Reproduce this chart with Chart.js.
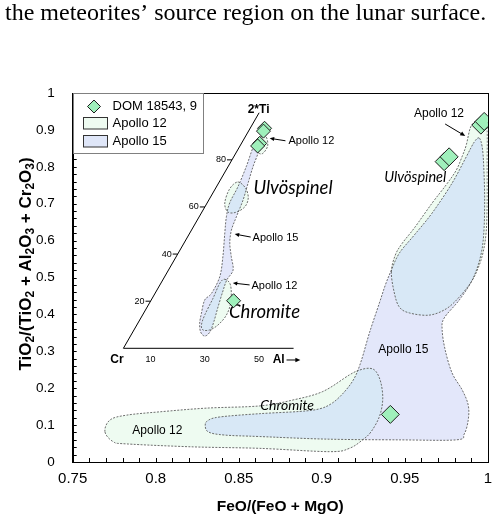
<!DOCTYPE html>
<html>
<head>
<meta charset="utf-8">
<script src="https://cdn.jsdelivr.net/npm/chart.js@4.4.1/dist/chart.umd.min.js"></script>
<style>
  html, body { margin: 0; padding: 0; background: #fff; }
  #wrap { position: relative; width: 492px; height: 518px; }
</style>
</head>
<body>
<div id="wrap"><canvas id="c"></canvas></div>
<script>
// ---- Spinel data: FeO/(FeO+MgO) vs TiO2/(TiO2+Al2O3+Cr2O3) ----
const domSpinel = [
  [0.9413, 0.129], [0.9737, 0.814], [0.9767, 0.827], [0.9958, 0.913], [0.9978, 0.923]
];

// Apollo 15 spinel field (chromite to ulvöspinel)
const apollo15Field = [
  [0.9948, 0.878], [0.9918, 0.867], [0.9870, 0.827], [0.9785, 0.756], [0.9665, 0.675],
  [0.9557, 0.615], [0.9467, 0.566], [0.9419, 0.520], [0.9383, 0.480], [0.9347, 0.431],
  [0.9287, 0.350], [0.9239, 0.276], [0.9197, 0.228], [0.9136, 0.190], [0.9064, 0.160],
  [0.8986, 0.144], [0.8866, 0.137], [0.8626, 0.131], [0.8385, 0.122], [0.8313, 0.112],
  [0.8298, 0.098], [0.8319, 0.081], [0.8415, 0.073], [0.8626, 0.069], [0.9028, 0.062],
  [0.9467, 0.060], [0.9810, 0.060], [0.9858, 0.076], [0.9882, 0.114], [0.9882, 0.154],
  [0.9846, 0.195], [0.9785, 0.241], [0.9743, 0.304], [0.9725, 0.358], [0.9737, 0.390],
  [0.9828, 0.439], [0.9906, 0.493], [0.9954, 0.553], [0.9975, 0.615], [0.9981, 0.710],
  [0.9975, 0.805], [0.9966, 0.854]
];

// Apollo 12 chromite field
const apollo12Chromite = [
  [0.7694, 0.082], [0.7725, 0.114], [0.7825, 0.127], [0.8025, 0.136], [0.8305, 0.146],
  [0.8626, 0.152], [0.8826, 0.168], [0.9006, 0.191], [0.9166, 0.236], [0.9227, 0.249],
  [0.9287, 0.254], [0.9327, 0.245], [0.9357, 0.213], [0.9367, 0.168], [0.9347, 0.123],
  [0.9297, 0.082], [0.9246, 0.060], [0.9166, 0.037], [0.9046, 0.028], [0.8626, 0.037],
  [0.8225, 0.041], [0.7825, 0.049], [0.7744, 0.055]
];

// Apollo 12 ulvöspinel field
const apollo12Ulvospinel = [
  [0.9419, 0.515], [0.9443, 0.561], [0.9485, 0.593], [0.9557, 0.634], [0.9665, 0.702],
  [0.9749, 0.751], [0.9810, 0.791], [0.9846, 0.829], [0.9870, 0.859], [0.9894, 0.905],
  [0.9924, 0.924], [0.9960, 0.932], [0.9984, 0.924], [0.9996, 0.900], [0.9996, 0.805],
  [0.9996, 0.696], [0.9990, 0.623], [0.9972, 0.569], [0.9942, 0.526], [0.9900, 0.488],
  [0.9828, 0.447], [0.9749, 0.415], [0.9647, 0.398], [0.9527, 0.404], [0.9467, 0.420],
  [0.9437, 0.458]
];

// ---- Cr - Al - 2*Ti ternary (values in %: [Al, 2*Ti], Cr is the remainder) ----
const domTernary = [[5.3, 93.4], [5.5, 92.2], [6.7, 87.0], [6.5, 85.9], [30.5, 20.2]];

const apollo15Ternary = [
  [7.0, 86.3], [8.2, 82.8], [9.2, 77.1], [10.9, 70.0], [12.6, 63.0], [13.7, 55.9],
  [14.7, 50.2], [16.9, 44.6], [20.3, 38.9], [23.8, 33.2], [23.6, 29.0], [24.6, 23.9],
  [26.2, 17.1], [27.7, 11.2], [28.4, 6.9], [27.4, 5.2], [25.0, 6.9], [22.8, 10.6],
  [21.3, 14.9], [19.7, 20.5], [20.8, 23.3], [20.3, 30.4], [17.2, 38.9], [12.9, 48.9],
  [10.0, 55.9], [8.3, 61.7], [7.9, 68.6], [6.7, 77.1], [5.3, 84.2], [5.1, 87.2]
];
const apollo12TernaryTop = [[5.0, 88.9], [7.3, 90.1], [10.2, 85.9], [9.7, 82.5], [6.4, 84.6]];
const apollo12TernaryUlv = [
  [6.8, 70.6], [11.0, 68.0], [14.1, 63.8], [14.7, 60.0], [12.5, 57.7], [9.5, 57.9], [6.5, 61.7], [5.3, 67.6]
];
const apollo12TernaryChr = [
  [22.7, 29.3], [26.0, 26.9], [29.7, 19.8], [30.9, 14.1], [29.9, 9.9], [27.9, 7.8],
  [25.4, 7.8], [23.8, 9.9], [22.9, 14.1], [22.4, 21.2], [21.7, 27.6]
];

// ---- tick labels ----
const xTickLabels = [0.75, 0.8, 0.85, 0.9, 0.95, 1];
const yTickLabels = [0, 0.1, 0.2, 0.3, 0.4, 0.5, 0.6, 0.7, 0.8, 0.9, 1];
const ternaryAlTicks = [10, 30, 50];
const ternaryTiTicks = [20, 40, 60, 80];

// ---- styling ----
const FONT = "'Liberation Sans', Arial, Helvetica, sans-serif";
const ITALIC = "Lato, 'Open Sans', sans-serif";
const C12 = '#eefbf1';
const C15 = '#e3e7fa';
const C_BOTH = '#d8e8f6';
const MARK = '#9ff0bb';
const SIN60 = Math.sqrt(3) / 2;

// ternary [Al, 2*Ti] -> cartesian position inside the triangle
const tern = (al, ti) => ({ x: al + ti / 2, y: ti * SIN60 });

function smoothPath(ctx, pts) {
  const n = pts.length;
  ctx.moveTo(pts[0][0], pts[0][1]);
  for (let i = 0; i < n; i++) {
    const p0 = pts[(i - 1 + n) % n], p1 = pts[i], p2 = pts[(i + 1) % n], p3 = pts[(i + 2) % n];
    ctx.bezierCurveTo(
      p1[0] + (p2[0] - p0[0]) / 6, p1[1] + (p2[1] - p0[1]) / 6,
      p2[0] - (p3[0] - p1[0]) / 6, p2[1] - (p3[1] - p1[1]) / 6,
      p2[0], p2[1]);
  }
  ctx.closePath();
}

function drawFields(ctx, a15, a12) {
  ctx.fillStyle = C15;
  a15.forEach(f => { ctx.beginPath(); smoothPath(ctx, f); ctx.fill(); });
  ctx.fillStyle = C12;
  a12.forEach(f => { ctx.beginPath(); smoothPath(ctx, f); ctx.fill(); });
  // overlap of both fields
  ctx.save();
  ctx.beginPath();
  a15.forEach(f => smoothPath(ctx, f));
  ctx.clip();
  ctx.fillStyle = C_BOTH;
  a12.forEach(f => { ctx.beginPath(); smoothPath(ctx, f); ctx.fill(); });
  ctx.restore();
  // dashed outlines
  ctx.save();
  ctx.setLineDash([2, 1.4]);
  ctx.strokeStyle = '#4a4a4a';
  ctx.lineWidth = 0.8;
  a15.concat(a12).forEach(f => { ctx.beginPath(); smoothPath(ctx, f); ctx.stroke(); });
  ctx.restore();
}

function label(ctx, str, x, y, font, align = 'center', baseline = 'middle') {
  ctx.font = font;
  ctx.textAlign = align;
  ctx.textBaseline = baseline;
  ctx.fillStyle = '#000';
  ctx.fillText(str, x, y);
}

function arrow(ctx, x1, y1, x2, y2, head = 5) {
  const a = Math.atan2(y2 - y1, x2 - x1);
  ctx.save();
  ctx.strokeStyle = '#000';
  ctx.fillStyle = '#000';
  ctx.lineWidth = 1;
  ctx.beginPath();
  ctx.moveTo(x1, y1);
  ctx.lineTo(x2 - Math.cos(a) * head * 0.8, y2 - Math.sin(a) * head * 0.8);
  ctx.stroke();
  ctx.beginPath();
  ctx.moveTo(x2, y2);
  ctx.lineTo(x2 - head * Math.cos(a) + head * 0.45 * Math.sin(a), y2 - head * Math.sin(a) - head * 0.45 * Math.cos(a));
  ctx.lineTo(x2 - head * Math.cos(a) - head * 0.45 * Math.sin(a), y2 - head * Math.sin(a) + head * 0.45 * Math.cos(a));
  ctx.closePath();
  ctx.fill();
  ctx.restore();
}

function diamond(ctx, x, y, r) {
  ctx.beginPath();
  ctx.moveTo(x, y - r); ctx.lineTo(x + r, y); ctx.lineTo(x, y + r); ctx.lineTo(x - r, y);
  ctx.closePath();
  ctx.fillStyle = MARK; ctx.fill();
  ctx.strokeStyle = '#1e1e1e'; ctx.lineWidth = 1; ctx.stroke();
}

const fieldsPlugin = {
  id: 'spinelFields',
  beforeDatasetsDraw(chart) {
    const { ctx, chartArea: ca } = chart;
    const X = chart.scales.x, Y = chart.scales.y, TX = chart.scales.tx, TY = chart.scales.ty;
    const main = p => [X.getPixelForValue(p[0]), Y.getPixelForValue(p[1])];
    const ins = p => { const q = tern(p[0], p[1]); return [TX.getPixelForValue(q.x), TY.getPixelForValue(q.y)]; };
    const uv = (u, v) => [TX.getPixelForValue(u), TY.getPixelForValue(v)];

    ctx.save();
    ctx.beginPath(); ctx.rect(ca.left, ca.top, ca.width, ca.height); ctx.clip();

    drawFields(ctx, [apollo15Field.map(main)], [apollo12Chromite.map(main), apollo12Ulvospinel.map(main)]);

    // main-plot annotations
    const f12 = `12px ${FONT}`;
    let p = main([0.9706, 0.945]); label(ctx, 'Apollo 12', p[0], p[1], f12);
    let a = main([0.9743, 0.916]), b = main([0.9864, 0.8835]); arrow(ctx, a[0], a[1], b[0], b[1]);
    p = main([0.9563, 0.772]); label(ctx, 'Ulvöspinel', p[0], p[1], `italic 14.5px ${ITALIC}`);
    p = main([0.9491, 0.3035]); label(ctx, 'Apollo 15', p[0], p[1], f12);
    p = main([0.8791, 0.1545]); label(ctx, 'Chromite', p[0], p[1], `italic 14px ${ITALIC}`);
    p = main([0.8010, 0.0848]); label(ctx, 'Apollo 12', p[0], p[1], f12);

    // ternary inset: axes
    const o = uv(0, 0), apex = uv(50, 100 * SIN60), baseEnd = uv(62.7, 0);
    ctx.strokeStyle = '#000'; ctx.lineWidth = 1;
    ctx.beginPath();
    ctx.moveTo(apex[0], apex[1]); ctx.lineTo(o[0], o[1]); ctx.lineTo(baseEnd[0], baseEnd[1]);
    ctx.stroke();
    ternaryTiTicks.forEach(t => {
      const q = uv(t / 2, t * SIN60);
      ctx.beginPath(); ctx.moveTo(q[0] - 5, q[1]); ctx.lineTo(q[0], q[1]); ctx.stroke();
      label(ctx, String(t), q[0] - 6, q[1], `9px ${FONT}`, 'right');
    });
    ternaryAlTicks.forEach(t => {
      const q = uv(t, -4.3);
      label(ctx, String(t), q[0], q[1], `9px ${FONT}`);
    });
    p = uv(-2.4, -4.3); label(ctx, 'Cr', p[0], p[1], `bold 12px ${FONT}`);
    p = uv(57.2, -4.3); label(ctx, 'Al', p[0], p[1], `bold 12px ${FONT}`);
    a = uv(60.1, -4.3); b = uv(65.2, -4.3); arrow(ctx, a[0], a[1], b[0], b[1], 5);
    p = uv(49.8, 87.6); label(ctx, '2*Ti', p[0], p[1], `bold 12px ${FONT}`);

    // ternary inset: fields
    drawFields(ctx, [apollo15Ternary.map(ins)],
      [apollo12TernaryTop.map(ins), apollo12TernaryUlv.map(ins), apollo12TernaryChr.map(ins)]);

    // ternary inset: annotations
    const f11 = `11px ${FONT}`;
    a = uv(59.7, 76.3); b = uv(53.9, 77.2); arrow(ctx, a[0], a[1], b[0], b[1], 4.5);
    p = uv(60.8, 76.3); label(ctx, 'Apollo 12', p[0], p[1], f11, 'left');
    p = uv(62.5, 58.9); label(ctx, 'Ulvöspinel', p[0], p[1], `italic 18.5px ${ITALIC}`);
    a = uv(46.9, 40.9); b = uv(41.0, 42.0); arrow(ctx, a[0], a[1], b[0], b[1], 4.5);
    p = uv(47.6, 40.5); label(ctx, 'Apollo 15', p[0], p[1], f11, 'left');
    a = uv(46.5, 23.3); b = uv(40.3, 24.0); arrow(ctx, a[0], a[1], b[0], b[1], 4.5);
    p = uv(47.2, 22.9); label(ctx, 'Apollo 12', p[0], p[1], f11, 'left');
    p = uv(52.0, 13.3); label(ctx, 'Chromite', p[0], p[1], `italic 18.5px ${ITALIC}`);

    ctx.restore();
  },
  afterDatasetsDraw(chart) {
    const { ctx, chartArea: ca } = chart;
    ctx.save();
    // frame
    ctx.strokeStyle = '#000'; ctx.lineWidth = 1;
    ctx.strokeRect(Math.round(ca.left) + 0.5, Math.round(ca.top) + 0.5,
      Math.round(ca.right) - Math.round(ca.left), Math.round(ca.bottom) - Math.round(ca.top));
    // inward tick marks
    const X = chart.scales.x, Y = chart.scales.y;
    ctx.beginPath();
    X.ticks.forEach(t => {
      const x = Math.round(X.getPixelForValue(t.value)) + 0.5;
      ctx.moveTo(x, ca.bottom); ctx.lineTo(x, ca.bottom - 4);
    });
    Y.ticks.forEach(t => {
      const y = Math.round(Y.getPixelForValue(t.value)) + 0.5;
      ctx.moveTo(ca.left, y); ctx.lineTo(ca.left + 4, y);
    });
    ctx.stroke();

    // legend
    const L = Math.round(ca.left) + 0.5, T = Math.round(ca.top) + 0.5;
    ctx.fillStyle = '#fff';
    ctx.fillRect(L, T, 130, 60);
    ctx.strokeStyle = '#808080';
    ctx.strokeRect(L, T, 130, 60);
    diamond(ctx, L + 20.5, T + 13, 6.5);
    ctx.fillStyle = C12; ctx.fillRect(L + 10, T + 24, 24, 11.5);
    ctx.strokeStyle = '#333'; ctx.strokeRect(L + 10, T + 24, 24, 11.5);
    ctx.fillStyle = '#dfe6f8'; ctx.fillRect(L + 10, T + 42, 24, 11.5);
    ctx.strokeRect(L + 10, T + 42, 24, 11.5);
    const f13 = `13px ${FONT}`;
    label(ctx, 'DOM 18543, 9', L + 39, T + 13, f13, 'left');
    label(ctx, 'Apollo 12', L + 39, T + 30, f13, 'left');
    label(ctx, 'Apollo 15', L + 39, T + 47.5, f13, 'left');
    ctx.restore();
  },
  afterDraw(chart) {
    const { ctx, chartArea: ca } = chart;
    ctx.save();
    // running text line above the figure
    label(ctx, 'the meteorites’ source region on the lunar surface.', 5, 20,
      "24px 'Liberation Serif', 'Times New Roman', serif", 'left', 'alphabetic');
    // x-axis title
    label(ctx, 'FeO/(FeO + MgO)', (ca.left + ca.right) / 2, 507, `bold 15.5px ${FONT}`);
    // y-axis title with subscripts
    const runs = [
      ['TiO'], ['2', 1], ['/(TiO'], ['2', 1], [' + Al'], ['2', 1], ['O'], ['3', 1],
      [' + Cr'], ['2', 1], ['O'], ['3', 1], [')']
    ];
    const big = `bold 17px ${FONT}`, small = `bold 12px ${FONT}`;
    let total = 0;
    const w = runs.map(r => { ctx.font = r[1] ? small : big; const m = ctx.measureText(r[0]).width; total += m; return m; });
    ctx.translate(25, 264);
    ctx.rotate(-Math.PI / 2);
    let x = -total / 2;
    ctx.textAlign = 'left';
    ctx.textBaseline = 'alphabetic';
    ctx.fillStyle = '#000';
    runs.forEach((r, i) => {
      ctx.font = r[1] ? small : big;
      ctx.fillText(r[0], x, r[1] ? 9 : 6);
      x += w[i];
    });
    ctx.restore();
  }
};

const near = (list, v) => list.some(t => Math.abs(t - v) < 1e-9);

new Chart(document.getElementById('c'), {
  type: 'scatter',
  data: {
    datasets: [
      {
        label: 'DOM 18543, 9',
        data: domSpinel.map(([x, y]) => ({ x, y })),
        xAxisID: 'x', yAxisID: 'y',
        pointStyle: 'rectRot', pointRadius: 9,
        backgroundColor: MARK, borderColor: '#1e1e1e', borderWidth: 1
      },
      {
        label: 'DOM 18543, 9 (Cr-Al-2Ti)',
        data: domTernary.map(([al, ti]) => tern(al, ti)),
        xAxisID: 'tx', yAxisID: 'ty',
        pointStyle: 'rectRot', pointRadius: 7,
        backgroundColor: MARK, borderColor: '#1e1e1e', borderWidth: 1
      }
    ]
  },
  options: {
    responsive: true,
    maintainAspectRatio: false,
    animation: false,
    layout: { autoPadding: false, padding: { top: 93, right: 0, left: 0, bottom: 0 } },
    plugins: { legend: { display: false }, tooltip: { enabled: false } },
    scales: {
      x: {
        type: 'linear', position: 'bottom', min: 0.75, max: 1,
        afterFit(s) { s.height = 56; },
        grid: { display: false, drawTicks: true, tickLength: 8 },
        border: { display: true, color: '#000', width: 1 },
        ticks: {
          stepSize: 0.01, autoSkip: false, maxRotation: 0, padding: 0, color: '#000',
          font: { family: FONT, size: 15 },
          callback: v => near(xTickLabels, v) ? String(+v.toFixed(2)) : ''
        }
      },
      y: {
        type: 'linear', position: 'left', min: 0, max: 1,
        afterFit(s) { s.width = 72.7; },
        grid: { display: false, drawTicks: false },
        border: { display: true, color: '#000', width: 1 },
        ticks: {
          stepSize: 0.02, autoSkip: false, padding: 18, color: '#000',
          font: { family: FONT, size: 13.5 },
          callback: v => near(yTickLabels, v) ? String(+v.toFixed(1)) : ''
        }
      },
      tx: { type: 'linear', axis: 'x', position: 'bottom', display: false, min: -18.68, max: 134.26 },
      ty: { type: 'linear', axis: 'y', position: 'left', display: false, min: -41.8, max: 93.86 }
    }
  },
  plugins: [fieldsPlugin]
});
</script>
</body>
</html>
